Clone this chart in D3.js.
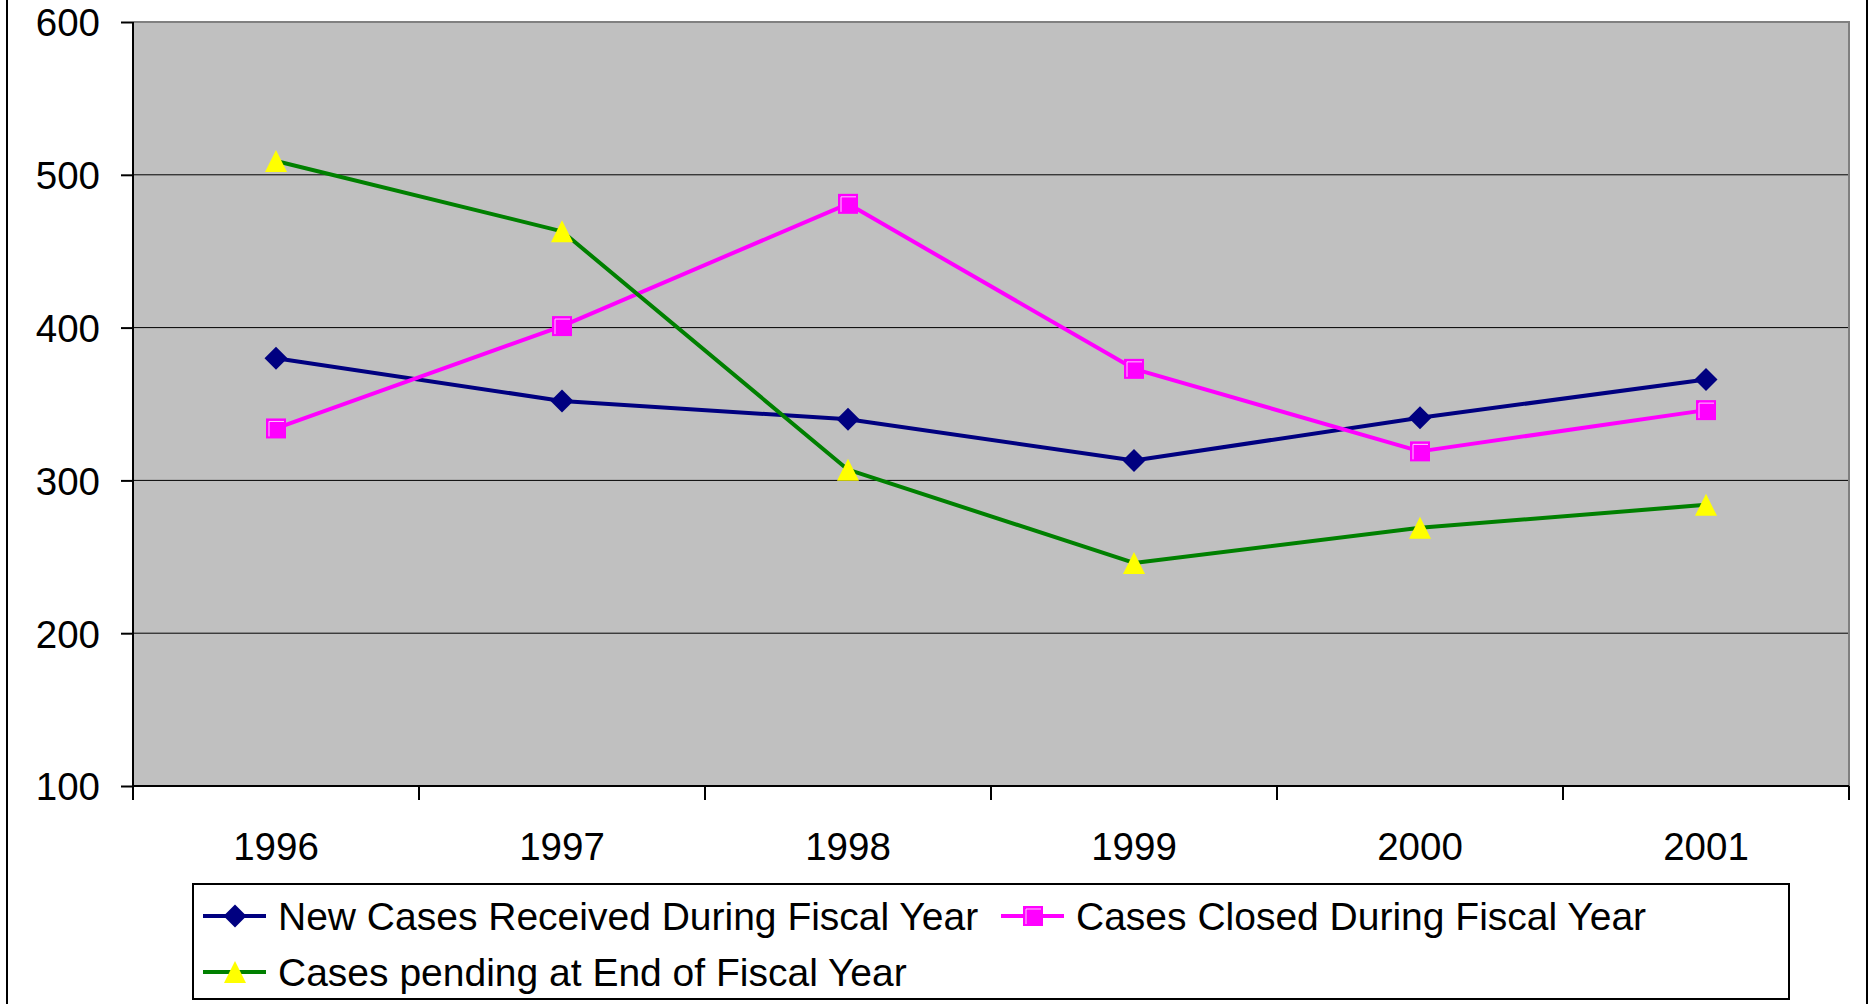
<!DOCTYPE html>
<html>
<head>
<meta charset="utf-8">
<script src="https://cdn.jsdelivr.net/npm/d3@7"></script>
<style>
  body { margin: 0; background: #fff; }
  text { font-family: "Liberation Sans", Arial, sans-serif; fill: #000; }
</style>
</head>
<body>
<div id="chart"></div>
<script>
const years = ["1996", "1997", "1998", "1999", "2000", "2001"];
const newCases = [380, 352, 340, 313, 341, 366];
const closedCases = [334, 401, 481, 373, 319, 346];
const pendingCases = [509, 463, 307, 246, 269, 284];
const yTicks = [100, 200, 300, 400, 500, 600];
const seriesNames = [
    "New Cases Received During Fiscal Year",
    "Cases Closed During Fiscal Year",
    "Cases pending at End of Fiscal Year"
];

document.addEventListener("DOMContentLoaded", draw)

// marker shapes, centred on their bounding box like excel does
function diamond(r){
    return `M0,${-r}L${r},0L0,${r}L${-r},0Z`;
}
function square(r){
    return `M${-r},${-r}H${r}V${r}H${-r}Z`;
}
function triangle(r){
    return `M0,${-r}L${r},${r}H${-r}Z`;
}

function drawMarker(g, kind, x, y){
    if (kind == "diamond"){
        g.append("path").attr("d", diamond(11.5))
            .attr("transform", `translate(${x},${y})`)
            .attr("fill", "#000080");
    } else if (kind == "square"){
        g.append("path").attr("d", square(10))
            .attr("transform", `translate(${x},${y})`)
            .attr("fill", "#ff00ff");
        // the little highlight inside the square
        g.append("path").attr("d", "M-7,8V-7H8")
            .attr("transform", `translate(${x},${y})`)
            .attr("fill", "none")
            .attr("stroke", "#ffc8ff")
            .attr("stroke-width", 1);
    } else {
        g.append("path").attr("d", triangle(11))
            .attr("transform", `translate(${x},${y})`)
            .attr("fill", "#ffff00");
    }
}

function draw(){
    const width = 1870;
    const height = 1004;
    const plot = {left: 133, right: 1849, top: 22, bottom: 786};

    const svg = d3.select("#chart").append("svg")
        .attr("width", width)
        .attr("height", height);

    // outer chart border (top and bottom fall outside the picture)
    svg.append("rect")
        .attr("x", 7).attr("y", -10)
        .attr("width", 1860).attr("height", height + 20)
        .attr("fill", "#fff")
        .attr("stroke", "#000")
        .attr("stroke-width", 2);

    const x = d3.scaleBand()
        .domain(years)
        .range([plot.left, plot.right]);
    const y = d3.scaleLinear()
        .domain([100, 600])
        .range([plot.bottom, plot.top]);

    svg.append("rect")
        .attr("x", plot.left).attr("y", plot.top)
        .attr("width", plot.right - plot.left)
        .attr("height", plot.bottom - plot.top)
        .attr("fill", "#c0c0c0");

    // gridlines
    svg.append("g")
        .selectAll("line")
        .data(yTicks.filter(t => t > 100 && t < 600))
        .enter()
        .append("line")
        .attr("x1", plot.left).attr("x2", plot.right)
        .attr("y1", d => y(d)).attr("y2", d => y(d))
        .attr("stroke", "#000")
        .attr("stroke-width", 1);

    // top and right plot border in grey
    svg.append("path")
        .attr("d", `M${plot.left},${plot.top}H${plot.right}V${plot.bottom}`)
        .attr("fill", "none")
        .attr("stroke", "#808080")
        .attr("stroke-width", 2);

    // y axis
    const yAxis = svg.append("g")
        .attr("transform", `translate(${plot.left},0)`)
        .call(d3.axisLeft(y).tickValues(yTicks).tickSize(12).tickSizeOuter(0).tickPadding(21));
    yAxis.select(".domain").attr("stroke", "#000").attr("stroke-width", 2)
        .attr("d", `M0,${plot.top}V${plot.bottom + 14}`);
    yAxis.selectAll(".tick line").attr("stroke", "#000").attr("stroke-width", 2);
    yAxis.selectAll(".tick text")
        .attr("dy", "0.36em")
        .style("font-size", "38.5px")
        .style("font-family", "'Liberation Sans', Arial, sans-serif")
        .attr("fill", "#000");

    // x axis: ticks between categories, labels in the middle
    const xAxis = svg.append("g")
        .attr("transform", `translate(0,${plot.bottom})`);
    xAxis.append("line")
        .attr("x1", plot.left).attr("x2", plot.right)
        .attr("stroke", "#000").attr("stroke-width", 2);
    const bounds = years.map(d => x(d)).concat([plot.right]);
    xAxis.selectAll(".xtick")
        .data(bounds)
        .enter()
        .append("line")
        .attr("class", "xtick")
        .attr("x1", d => d).attr("x2", d => d)
        .attr("y1", 0).attr("y2", 14)
        .attr("stroke", "#000").attr("stroke-width", 2);
    xAxis.selectAll(".xlabel")
        .data(years)
        .enter()
        .append("text")
        .attr("class", "xlabel")
        .attr("x", d => x(d) + x.bandwidth() / 2)
        .attr("y", 74)
        .attr("text-anchor", "middle")
        .style("font-size", "38.5px")
        .text(d => d);

    const series = [
        {values: newCases, color: "#000080", marker: "diamond"},
        {values: closedCases, color: "#ff00ff", marker: "square"},
        {values: pendingCases, color: "#008000", marker: "triangle"}
    ];

    const line = d3.line()
        .x((d, i) => x(years[i]) + x.bandwidth() / 2)
        .y(d => y(d));

    series.forEach(s => {
        const g = svg.append("g");
        g.append("path")
            .attr("d", line(s.values))
            .attr("fill", "none")
            .attr("stroke", s.color)
            .attr("stroke-width", 4)
            .attr("stroke-linejoin", "round");
        s.values.forEach((v, i) => {
            drawMarker(g, s.marker, x(years[i]) + x.bandwidth() / 2, y(v));
        });
    });

    // legend
    const legend = svg.append("g");
    legend.append("rect")
        .attr("x", 193).attr("y", 884)
        .attr("width", 1596).attr("height", 115)
        .attr("fill", "#fff")
        .attr("stroke", "#000")
        .attr("stroke-width", 2);
    const items = [
        {x: 203, y: 916},
        {x: 1001, y: 916},
        {x: 203, y: 972}
    ];
    items.forEach((it, i) => {
        const g = legend.append("g");
        g.append("line")
            .attr("x1", it.x).attr("x2", it.x + 63)
            .attr("y1", it.y).attr("y2", it.y)
            .attr("stroke", series[i].color)
            .attr("stroke-width", 4);
        drawMarker(g, series[i].marker, it.x + 32, it.y);
        g.append("text")
            .attr("x", it.x + 75)
            .attr("y", it.y + 14)
            .style("font-size", "39px")
            .text(seriesNames[i]);
    });
}
</script>
</body>
</html>
